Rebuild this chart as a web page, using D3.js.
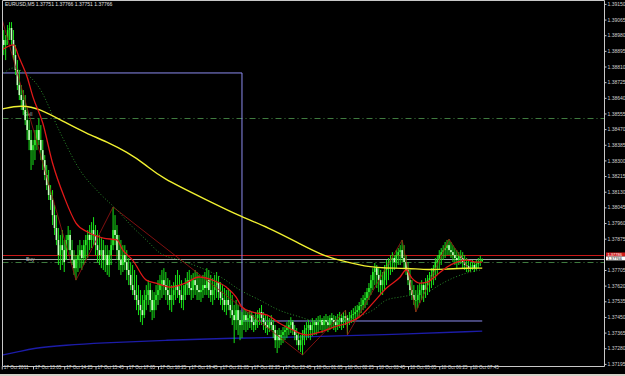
<!DOCTYPE html>
<html>
<head>
<meta charset="utf-8">
<script src="https://cdn.jsdelivr.net/npm/d3@7"></script>
<style>
body { margin: 0; background: #000; }
svg { display: block; }
</style>
</head>
<body>
<svg width="625" height="376"></svg>
<script>
// EURUSD,M5 - 247 bars from 17 Oct 11:45, prices in points (1e-5)
var high = [139073,139008,138981,139035,139051,139051,139008,138927,138845,138791,
138709,138682,138655,138584,138519,138465,138411,138465,138492,138530,
138492,138411,138329,138275,138248,138166,138139,138058,138003,137933,
137895,137922,137868,137895,137944,137922,137868,137813,137786,137840,
137868,137840,137868,137895,137922,137949,137965,137992,137949,137922,
137895,137878,137868,137840,137840,137813,137868,138047,138003,137949,
137895,137868,137840,137840,137813,137770,137748,137732,137705,137678,
137623,137596,137569,137596,137623,137650,137634,137596,137585,137623,
137650,137678,137705,137715,137694,137661,137650,137623,137639,137678,
137705,137678,137650,137623,137661,137694,137705,137678,137688,137705,
137694,137678,137661,137678,137694,137715,137705,137678,137661,137678,
137694,137672,137639,137623,137607,137596,137607,137596,137569,137515,
137542,137515,137487,137477,137498,137487,137477,137487,137477,137460,
137477,137487,137498,137515,137477,137460,137455,137444,137460,137433,
137406,137379,137390,137379,137395,137406,137422,137433,137449,137433,
137406,137390,137363,137352,137379,137406,137422,137433,137422,137444,
137433,137444,137455,137460,137444,137455,137466,137455,137460,137471,
137460,137455,137466,137477,137466,137477,137487,137460,137477,137487,
137498,137509,137515,137531,137553,137569,137585,137607,137634,137678,
137715,137743,137732,137715,137705,137694,137732,137759,137770,137786,
137802,137786,137813,137824,137840,137868,137840,137786,137748,137705,
137650,137623,137596,137623,137634,137650,137639,137661,137678,137694,
137715,137732,137770,137786,137813,137824,137840,137857,137868,137873,
137857,137840,137824,137813,137802,137813,137802,137786,137770,137759,
137748,137759,137748,137759,137770,137781,137766];

var low = [138899,138872,138845,138927,138954,138927,138845,138764,138682,138628,
138574,138546,138492,138411,138356,138248,138275,138302,138356,138383,
138302,138248,138193,138139,138085,138031,137949,137895,137840,137732,
137705,137732,137694,137759,137813,137786,137732,137678,137650,137694,
137715,137705,137732,137759,137770,137813,137824,137840,137786,137748,
137732,137715,137705,137694,137678,137667,137732,137813,137840,137759,
137705,137678,137694,137705,137650,137623,137596,137569,137542,137487,
137460,137422,137406,137444,137487,137515,137477,137433,137444,137487,
137515,137542,137553,137569,137542,137515,137487,137477,137515,137542,
137553,137525,137498,137487,137542,137569,137569,137542,137553,137569,
137542,137542,137531,137553,137569,137569,137553,137531,137515,137542,
137553,137542,137515,137487,137477,137460,137487,137444,137406,137308,
137379,137352,137324,137335,137379,137368,137379,137390,137379,137368,
137379,137390,137406,137406,137379,137363,137352,137368,137379,137335,
137281,137254,137281,137297,137308,137324,137335,137352,137363,137352,
137324,137297,137270,137259,137243,137297,137324,137335,137324,137346,
137352,137352,137368,137379,137363,137379,137379,137368,137379,137390,
137379,137368,137379,137390,137379,137390,137406,137352,137406,137417,
137422,137433,137444,137455,137471,137487,137498,137515,137542,137569,
137596,137623,137607,137585,137569,137569,137596,137623,137650,137678,
137694,137705,137715,137732,137732,137748,137715,137678,137623,137569,
137542,137515,137477,137498,137525,137542,137531,137553,137569,137585,
137607,137623,137650,137678,137705,137732,137759,137770,137786,137786,
137770,137748,137732,137715,137732,137737,137715,137705,137694,137694,
137694,137705,137694,137705,137715,137726,137751];

var close = [138954,138927,138954,139008,139019,138954,138872,138791,138709,138655,
138628,138574,138519,138465,138411,138356,138383,138411,138465,138411,
138356,138302,138221,138166,138112,138085,138003,137933,137868,137786,
137840,137813,137748,137868,137895,137813,137759,137715,137759,137786,
137813,137770,137840,137868,137895,137868,137922,137895,137840,137813,
137786,137813,137759,137786,137732,137786,137840,137922,137895,137813,
137759,137732,137786,137748,137705,137678,137623,137596,137569,137542,
137515,137487,137460,137542,137569,137596,137542,137487,137542,137569,
137596,137623,137650,137623,137596,137569,137542,137569,137596,137623,
137596,137569,137542,137569,137623,137650,137607,137596,137650,137623,
137596,137585,137596,137623,137607,137650,137596,137569,137596,137623,
137639,137585,137553,137542,137515,137542,137515,137487,137460,137433,
137487,137433,137406,137433,137460,137433,137444,137460,137422,137406,
137444,137460,137477,137444,137422,137406,137390,137422,137406,137379,
137324,137352,137324,137352,137368,137379,137390,137406,137422,137379,
137352,137324,137297,137324,137352,137379,137390,137406,137379,137406,
137422,137406,137422,137433,137406,137433,137422,137406,137444,137433,
137422,137406,137433,137444,137422,137455,137444,137433,137444,137460,
137466,137477,137487,137509,137515,137542,137553,137585,137607,137650,
137694,137715,137678,137650,137623,137650,137705,137732,137748,137759,
137770,137748,137786,137802,137813,137770,137748,137705,137650,137596,
137569,137542,137542,137569,137596,137623,137596,137623,137650,137661,
137678,137715,137748,137759,137786,137802,137813,137824,137840,137813,
137802,137786,137770,137759,137781,137770,137748,137732,137726,137715,
137715,137732,137715,137737,137748,137751,137766];

// indicator lines, [bar, price in points]
var maFast = [[0,138899],[6,138927],[9,138856],[13,138753],[16,138644],[21,138503],[26,138286],
  [32,138101],[38,137960],[44,137911],[52,137878],[59,137868],[62,137813],[67,137759],[74,137650],
  [79,137634],[86,137612],[94,137634],[101,137667],[108,137650],[115,137612],[120,137558],[123,137504],
  [128,137477],[136,137460],[142,137417],[149,137379],[156,137352],[163,137368],[170,137395],[177,137417],
  [183,137449],[190,137525],[197,137607],[204,137667],[207,137705],[210,137661],[214,137634],[218,137639],
  [221,137661],[224,137688],[228,137721],[233,137748],[238,137759],[243,137748],[246,137748]];
var maMid = [[0,138764],[6,138802],[11,138780],[19,138698],[30,138449],[40,138248],[50,138123],
  [59,138031],[67,137938],[74,137868],[81,137797],[91,137759],[101,137721],[112,137667],[122,137596],
  [132,137542],[142,137487],[153,137449],[158,137433],[170,137422],[180,137444],[190,137487],[197,137542],
  [204,137558],[210,137569],[218,137585],[224,137623],[231,137661],[238,137688],[245,137705]];
var maSlow = [[0,138579],[10,138601],[19,138584],[33,138503],[43,138449],[54,138400],[64,138346],
  [74,138275],[81,138210],[105,138085],[123,137992],[136,137938],[152,137851],[166,137775],[177,137748],
  [188,137721],[197,137715],[207,137715],[219,137705],[228,137710],[238,137715],[246,137715]];
var maLong = [[0,137243],[8,137259],[16,137281],[33,137297],[50,137308],[84,137324],[118,137335],
  [153,137341],[194,137352],[246,137373]];
var zigzag = [[0,139073],[38,137650],[57,138047],[154,137243],[176,137487],[177,137352],[205,137868],
  [212,137477],[229,137873],[240,137694]];
var dayLevels = [[0,138775],[123,137428],[246,137428]];

var askPrice = 1.37786, bidPrice = 1.37766, sellLevel = 1.38530, buyLevel = 1.37748;
var title = "EURUSD,M5  1.37751 1.37766 1.37751 1.37766";
// 1.37790 sits under the ask box, so it is not listed
var priceTicks = [1.39150,1.39065,1.38980,1.38895,1.38810,1.38725,1.38640,1.38555,1.38470,1.38385,
  1.38300,1.38215,1.38130,1.38045,1.37960,1.37875,1.37705,1.37620,1.37535,1.37450,1.37365,
  1.37280,1.37195];
var timeLabels = ["17 Oct 2011","17 Oct 13:05","17 Oct 14:25","17 Oct 15:45","17 Oct 17:05",
  "17 Oct 18:25","17 Oct 19:45","17 Oct 21:05","17 Oct 22:25","17 Oct 23:45","18 Oct 01:05",
  "18 Oct 02:25","18 Oct 03:45","18 Oct 05:05","18 Oct 06:25","18 Oct 07:45"];

var svg = d3.select("svg"),
  width = +svg.attr("width"),
  height = +svg.attr("height");
var plotLeft = 2.5, plotRight = 604.5, plotTop = 0.5, plotBottom = 366.5;
var font = "'Liberation Sans', Arial, sans-serif";

// scales: 16 bars between time labels
var x = d3.scaleLinear().domain([0, 16]).range([1.75, 33]);
var y = d3.scaleLinear().domain([1.37195, 1.39150]).range([363.9, 3.9]);
var px = function (v) { return v / 1e5; };

svg.append("rect").attr("width", width).attr("height", height).attr("fill", "#000");

svg.append("defs").append("clipPath").attr("id", "plot")
  .append("rect").attr("x", plotLeft).attr("y", plotTop)
  .attr("width", plotRight - plotLeft).attr("height", plotBottom - plotTop);

var plot = svg.append("g").attr("clip-path", "url(#plot)");

// horizontal levels
function hline(price, color, dash, w) {
  plot.append("line")
    .attr("x1", plotLeft).attr("x2", plotRight)
    .attr("y1", Math.round(y(price)) + 0.5).attr("y2", Math.round(y(price)) + 0.5)
    .attr("stroke", color).attr("stroke-width", w || 1)
    .attr("stroke-dasharray", dash || null);
}
hline(sellLevel, "#3f7a3f", "6,3,1,3");
hline(buyLevel, "#3f7a3f", "6,3,1,3");
hline(askPrice, "#c81818");
hline(bidPrice, "#a8a8a8");

plot.append("text").attr("x", 24).attr("y", y(sellLevel) - 2)
  .attr("fill", "#b8b8b8").attr("font-size", 5).attr("font-family", font).text("Sell");
plot.append("text").attr("x", 26).attr("y", y(buyLevel) - 1)
  .attr("fill", "#b8b8b8").attr("font-size", 5).attr("font-family", font).text("Buy");

function line(curve) {
  return d3.line().x(function (d) { return x(d[0]); })
    .y(function (d) { return y(px(d[1])); }).curve(curve);
}

// previous-day high/low
plot.append("path").datum(dayLevels).attr("d", line(d3.curveStepAfter))
  .attr("fill", "none").attr("stroke", "#8c8cf0").attr("stroke-width", 1);

// long MA
plot.append("path").datum(maLong).attr("d", line(d3.curveBasis))
  .attr("fill", "none").attr("stroke", "#1c1ca8").attr("stroke-width", 1.3);

// candles
var bars = high.map(function (h, i) {
  var o = i > 0 ? close[i - 1] : 139035;
  if (i === high.length - 1) o = 137751;
  o = Math.max(low[i], Math.min(h, o));
  return { i: i, o: o, h: h, l: low[i], c: close[i] };
});
var cg = plot.append("g");
cg.selectAll("line").data(bars).enter().append("line")
  .attr("x1", function (d) { return x(d.i); }).attr("x2", function (d) { return x(d.i); })
  .attr("y1", function (d) { return y(px(d.h)); }).attr("y2", function (d) { return y(px(d.l)); })
  .attr("stroke", "#18e418").attr("stroke-width", 1);
cg.selectAll("rect").data(bars).enter().append("rect")
  .attr("x", function (d) { return x(d.i) - 0.8; })
  .attr("width", 1.6)
  .attr("y", function (d) { return y(px(Math.max(d.o, d.c))); })
  .attr("height", function (d) { return Math.max(0.6, Math.abs(y(px(d.o)) - y(px(d.c)))); })
  .attr("fill", function (d) { return d.c < d.o ? "#c8ffc0" : "#2cf02c"; });

// zigzag
plot.append("path").datum(zigzag).attr("d", line(d3.curveLinear))
  .attr("fill", "none").attr("stroke", "#a01414").attr("stroke-width", 0.8);

// moving averages
plot.append("path").datum(maMid).attr("d", line(d3.curveMonotoneX))
  .attr("fill", "none").attr("stroke", "#2a8a2a").attr("stroke-width", 1)
  .attr("stroke-dasharray", "1,2");
plot.append("path").datum(maSlow).attr("d", line(d3.curveBasis))
  .attr("fill", "none").attr("stroke", "#f0f030").attr("stroke-width", 1.4);
plot.append("path").datum(maFast).attr("d", line(d3.curveMonotoneX))
  .attr("fill", "none").attr("stroke", "#e01818").attr("stroke-width", 1.3);

// frame
var frame = svg.append("g").attr("stroke", "#c8c8c8").attr("stroke-width", 1).attr("fill", "none");
frame.append("path").attr("d", "M" + plotLeft + "," + plotTop + "H" + plotRight + "V" + plotBottom + "H" + plotLeft + "Z");

// price axis
var gy = svg.append("g").attr("transform", "translate(" + plotRight + ",0)")
  .call(d3.axisRight(y).tickValues(priceTicks).tickSize(2).tickPadding(1)
    .tickFormat(d3.format(".5f")));
gy.select(".domain").remove();
gy.selectAll("line").attr("stroke", "#c8c8c8");
gy.attr("font-size", 5).attr("font-family", font);
gy.selectAll("text").attr("fill", "#d0d0d0");

// time axis
var gx = svg.append("g").attr("transform", "translate(0," + plotBottom + ")")
  .call(d3.axisBottom(x).tickValues(timeLabels.map(function (d, i) { return i * 16; }))
    .tickSize(3).tickFormat(function (d, i) { return timeLabels[i]; }));
gx.select(".domain").remove();
gx.selectAll("line").attr("stroke", "#c8c8c8");
gx.attr("font-size", 4.6).attr("font-family", font);
gx.selectAll("text").attr("fill", "#d0d0d0").attr("text-anchor", "start")
  .attr("dx", 1.5).attr("dy", "-0.15em").attr("y", 3);

// ask / bid boxes on price axis, stacked so they touch
function priceBox(price, top, bg, fg) {
  var g = svg.append("g").attr("transform", "translate(" + (plotRight + 1.5) + "," + top + ")");
  g.append("rect").attr("x", 0).attr("y", 0).attr("width", 20).attr("height", 3.9).attr("fill", bg);
  g.append("text").attr("x", 1.5).attr("y", 3.3).attr("fill", fg)
    .attr("font-size", 4).attr("font-family", font).text(d3.format(".5f")(price));
}
priceBox(askPrice, y(askPrice) - 2.6, "#d01c1c", "#ffffff");
priceBox(bidPrice, y(askPrice) + 1.4, "#ffffff", "#000000");

// title
svg.append("text").attr("x", 5).attr("y", 6).attr("fill", "#e0e0e0")
  .attr("font-size", 5).attr("font-family", font).text(title);

// window bar at the bottom
svg.append("rect").attr("x", 0).attr("y", 374).attr("width", width).attr("height", 2).attr("fill", "#d4d0c8");
</script>
</body>
</html>
